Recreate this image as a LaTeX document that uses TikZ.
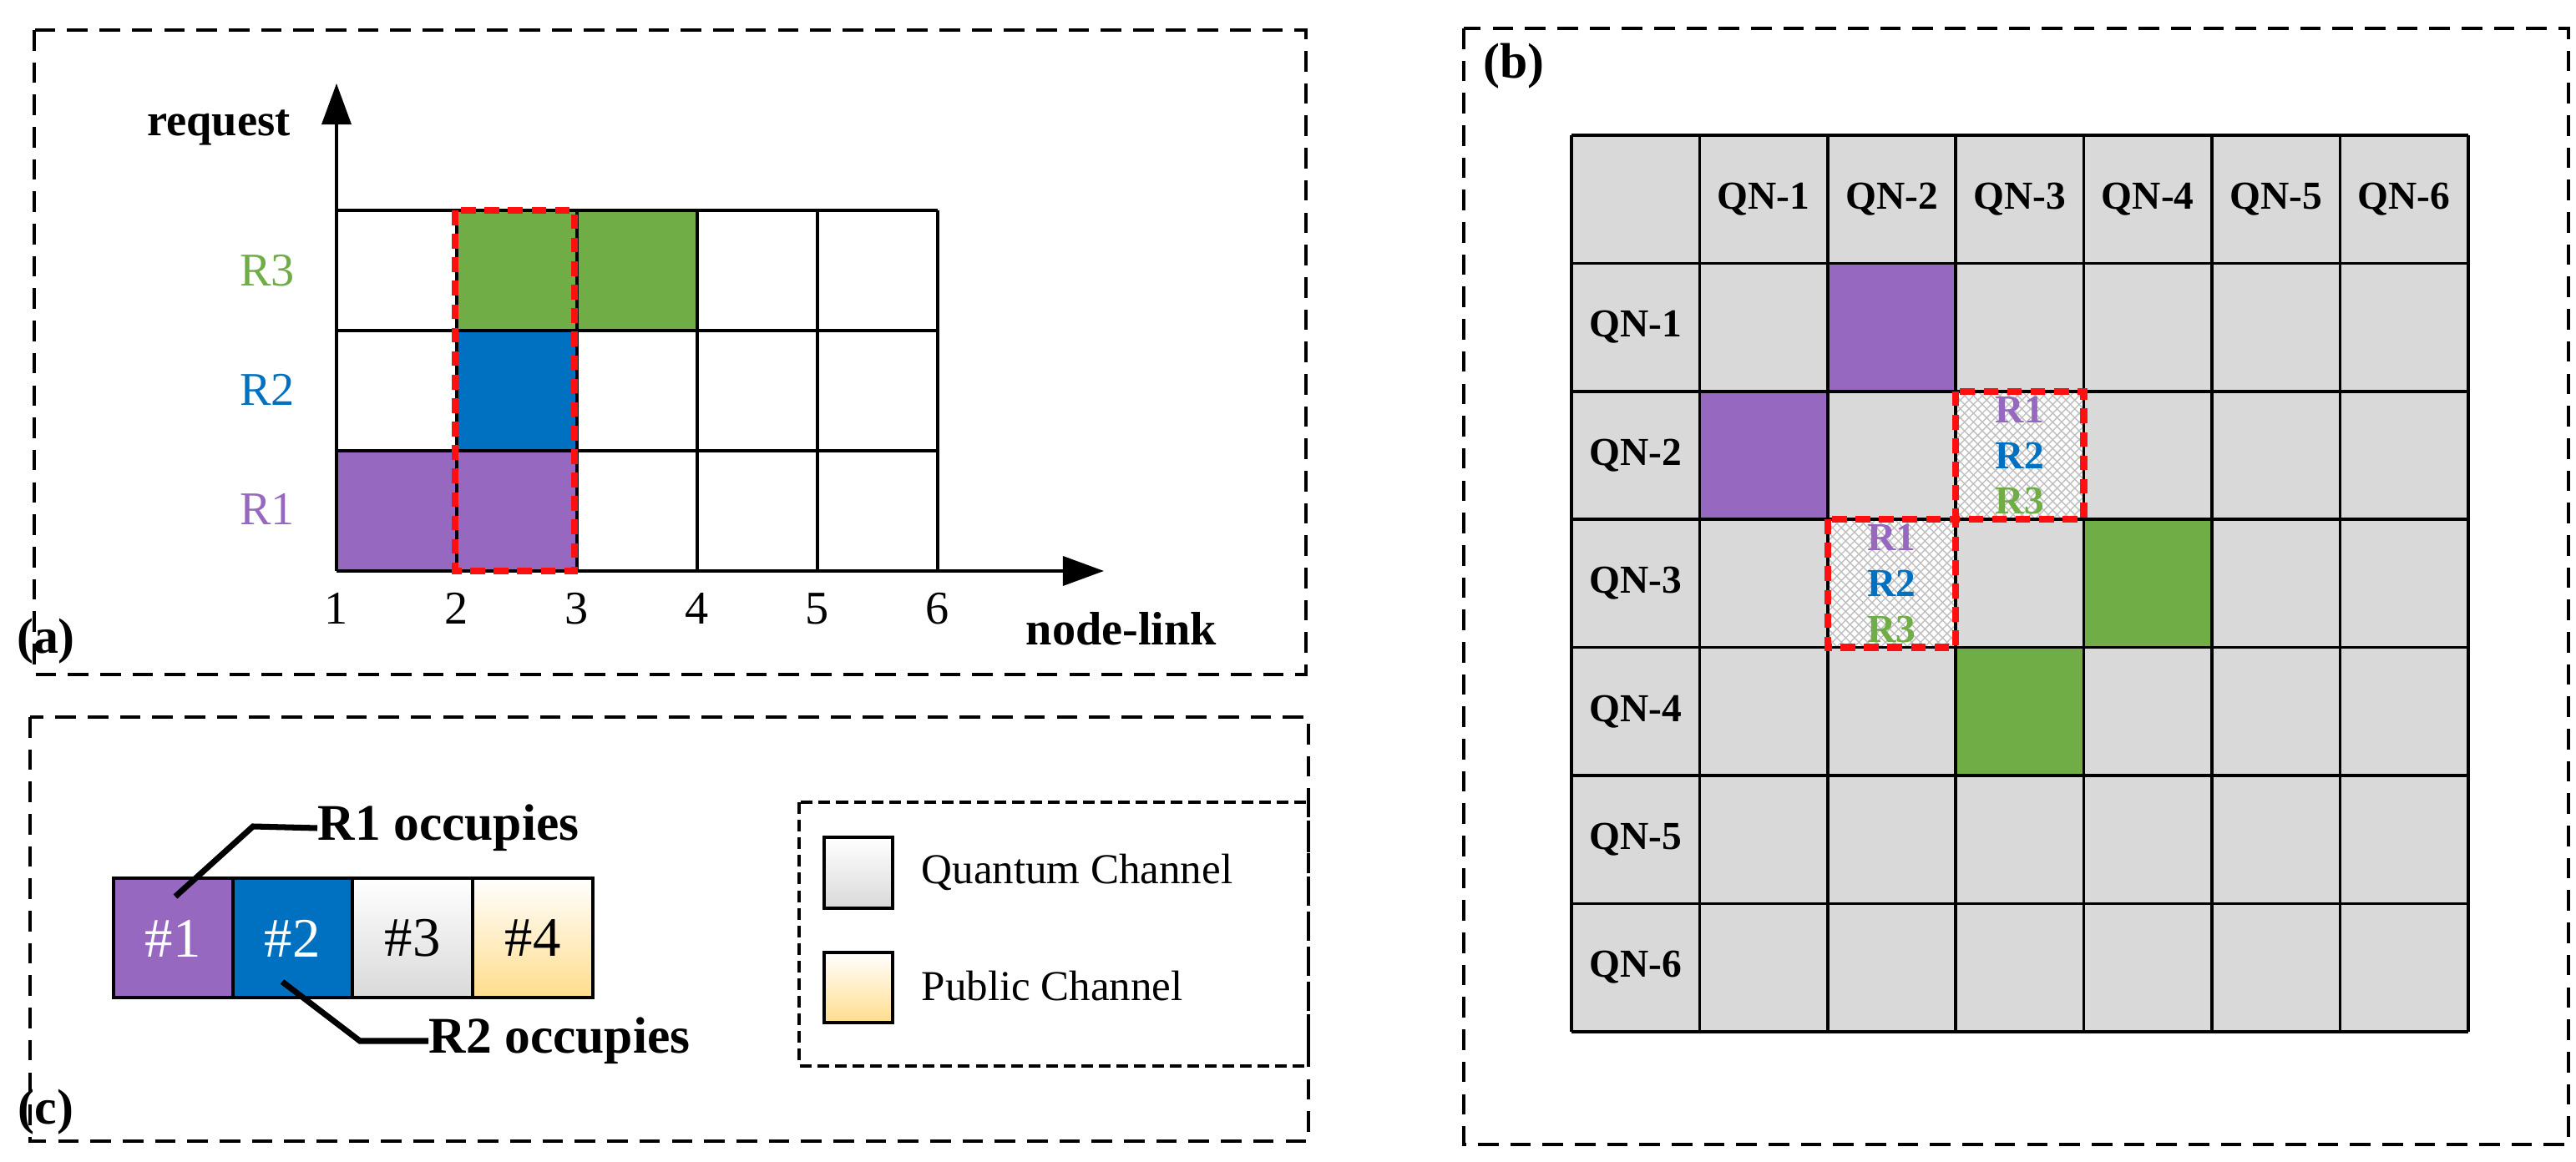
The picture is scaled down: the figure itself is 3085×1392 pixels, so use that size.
\documentclass[tikz,border=0pt]{standalone}
\usepackage{fontspec}
\setmainfont{Liberation Serif}
\usetikzlibrary{patterns,arrows.meta}
\definecolor{cpur}{HTML}{9668C0}
\definecolor{cblu}{HTML}{0070C0}
\definecolor{cgrn}{HTML}{70AD47}
\definecolor{cgry}{HTML}{D9D9D9}
\definecolor{cred}{HTML}{FF1010}
\begin{document}
\begin{tikzpicture}[x=0.01cm,y=-0.01cm,
  panel/.style={draw=black,line width=1pt,dash pattern=on 7pt off 4pt},
  cell/.style={draw=black,line width=1pt},
  redbox/.style={draw=cred,line width=2.4pt,dash pattern=on 5pt off 3pt},
  lab/.style={font=\fontsize{14.5}{16}\selectfont,inner sep=0pt},
  blab/.style={font=\bfseries\fontsize{14.5}{16}\selectfont,inner sep=0pt},
  num/.style={font=\fontsize{16}{18}\selectfont,inner sep=0pt},
  plab/.style={font=\bfseries\fontsize{17}{19}\selectfont,inner sep=0pt},
  qn/.style={font=\bfseries\fontsize{13.5}{15}\selectfont,inner sep=0pt},
  hatch/.style={pattern=crosshatch,pattern color=black!25}]
\useasboundingbox (0,0) rectangle (3085,1392);
% ---------- panel (a)
\draw[panel] (41,36) rectangle (1564,808);
\fill[cgrn] (547,252) rectangle (835,396);
\fill[cblu] (547,396) rectangle (691,540);
\fill[cpur] (403,540) rectangle (691,684);
\foreach \y in {252,396,540} \draw[cell] (403,\y) -- (1123,\y);
\foreach \x in {547,691,835,979,1123} \draw[cell] (\x,252) -- (\x,684);
\coordinate (o) at (403,684);
\coordinate (ytop) at (403,100);
\coordinate (xend) at (1322,684);
\draw[line width=1pt,-{Triangle[length=14pt,width=10pt]}] (o) -- (ytop);
\draw[line width=1pt,-{Triangle[length=14pt,width=10pt]}] (o) -- (xend);
\draw[redbox] (545,252) rectangle (688,684);
\node[blab,font=\bfseries\fontsize{15.5}{17}\selectfont] (req) at (262,153) {request};
\node[lab,text=cgrn,font=\fontsize{16}{18}\selectfont] (r3) at (320,324) {R3};
\node[lab,text=cblu,font=\fontsize{16}{18}\selectfont] (r2) at (320,467) {R2};
\node[lab,text=cpur,font=\fontsize{16}{18}\selectfont] (r1) at (320,610) {R1};
\foreach \i/\x in {1/403,2/547,3/691,4/835,5/979,6/1123}
  \node[num] (n\i) at (\x,729) {\i};
\node[blab,font=\bfseries\fontsize{16}{18}\selectfont] (nl) at (1343,753) {node-link};
\node[plab] (pa) at (55,768) {(a)};
% ---------- panel (c)
\draw[panel] (36,859) rectangle (1567,1367);
\fill[cpur] (136,1052) rectangle (279,1195);
\fill[cblu] (279,1052) rectangle (422,1195);
\shade[top color=white,bottom color=cgry] (422,1052) rectangle (566,1195);
\shade[top color=white,bottom color=yellow!40!orange!45] (566,1052) rectangle (710,1195);
\draw[cell,line width=1.3pt] (136,1052) rectangle (710,1195);
\foreach \x in {279,422,566} \draw[cell] (\x,1052) -- (\x,1195);
\node[font=\fontsize{19}{21}\selectfont,text=white] (h1) at (207,1124) {\#1};
\node[font=\fontsize{19}{21}\selectfont,text=white] (h2) at (350,1124) {\#2};
\node[font=\fontsize{19}{21}\selectfont] (h3) at (494,1124) {\#3};
\node[font=\fontsize{19}{21}\selectfont] (h4) at (638,1124) {\#4};
\node[blab,font=\bfseries\fontsize{17.5}{19}\selectfont,anchor=west] (o1) at (380,992) {R1 occupies};
\node[blab,font=\bfseries\fontsize{17.5}{19}\selectfont,anchor=west] (o2) at (513,1247) {R2 occupies};
\coordinate (l1a) at (210,1074);
\coordinate (l1b) at (303,990);
\coordinate (l2a) at (338,1176);
\coordinate (l2b) at (431,1247);
\draw[line width=2pt] (l1a) -- (l1b) -- (o1.west);
\draw[line width=2pt] (l2a) -- (l2b) -- (o2.west);
\draw[panel,dash pattern=on 4pt off 2pt] (957,961) rectangle (1567,1277);
\shade[top color=white,bottom color=cgry] (987,1003) rectangle (1069,1088);
\draw[cell,line width=1.3pt] (987,1003) rectangle (1069,1088);
\shade[top color=white,bottom color=yellow!40!orange!45] (987,1141) rectangle (1069,1225);
\draw[cell,line width=1.3pt] (987,1141) rectangle (1069,1225);
\node[lab,anchor=west] (qc) at (1103,1045) {Quantum Channel};
\node[lab,anchor=west] (pc) at (1103,1181) {Public Channel};
\node[plab] (pcl) at (55,1332) {(c)};
% ---------- panel (b)
\draw[panel] (1753,34) rectangle (3076,1371);
\def\s{153.4}
\fill[cgry] (1882,162) rectangle (2956,1236);
\foreach \r/\c/\col in {1/2/cpur,2/1/cpur,3/4/cgrn,4/3/cgrn}
  \fill[\col] ({1882+\c*\s},{162+\r*\s}) rectangle ({1882+(\c+1)*\s},{162+(\r+1)*\s});
\foreach \r/\c in {2/3,3/2}{
  \fill[white] ({1882+\c*\s},{162+\r*\s}) rectangle ({1882+(\c+1)*\s},{162+(\r+1)*\s});
  \fill[hatch] ({1882+\c*\s},{162+\r*\s}) rectangle ({1882+(\c+1)*\s},{162+(\r+1)*\s});}
\foreach \i in {0,...,7} {
  \draw[cell] ({1882+\i*\s},162) -- ({1882+\i*\s},1236);
  \draw[cell] (1882,{162+\i*\s}) -- (2956,{162+\i*\s});}
\foreach \i in {1,...,6} {
  \node[qn] (ct\i) at ({1882+(\i+0.5)*\s},{162+0.5*\s}) {QN-\i};
  \node[qn] (rw\i) at ({1882+0.5*\s},{162+(\i+0.5)*\s}) {QN-\i};}
\foreach \r/\c/\nm in {2/3/x,3/2/y} {
  \node[qn,text=cpur] (\nm1) at ({1882+(\c+0.5)*\s},{162+\r*\s+22}) {R1};
  \node[qn,text=cblu] (\nm2) at ({1882+(\c+0.5)*\s},{162+(\r+0.5)*\s}) {R2};
  \node[qn,text=cgrn] (\nm3) at ({1882+(\c+0.5)*\s},{162+(\r+1)*\s-22}) {R3};
  \draw[redbox] ({1882+\c*\s},{162+\r*\s}) rectangle ({1882+(\c+1)*\s},{162+(\r+1)*\s});}
\node[plab] (pb) at (1813,79) {(b)};
\end{tikzpicture}
\end{document}
